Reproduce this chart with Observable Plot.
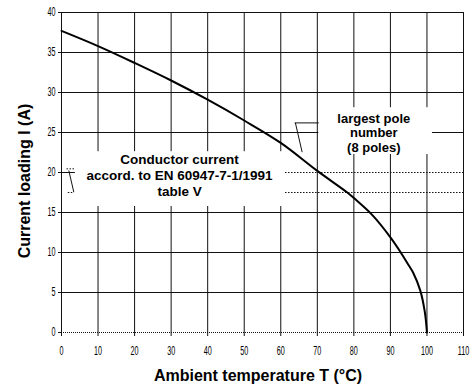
<!DOCTYPE html>
<html><head><meta charset="utf-8">
<script src="https://cdn.jsdelivr.net/npm/d3@7"></script>
<script src="https://cdn.jsdelivr.net/npm/@observablehq/plot@0.6"></script>
<style>
body{margin:0;background:#fff;}
#chart svg{display:block;}
</style></head><body><div id="chart"></div>
<script>
const temperature = [0,10,20,30,40,50,60,70,78.2,80,85,90,92.7,95,96.2,98.2,99.4,100];
const current = [37.7,35.8,33.7,31.5,29.1,26.5,23.7,20.2,17.5,16.8,14.7,11.9,10.1,8.4,7.5,5.2,2.6,0];
const xTicks = [0,10,20,30,40,50,60,70,80,90,100,110];
const yTicks = [0,5,10,15,20,25,30,35,40];
const solidGridY = [5,10,15,25,30,35];
const conductorLimits = [20, 17.5];
const xTitle = "Ambient temperature T (°C)";
const yTitle = "Current loading I (A)";
const conductorNote = "Conductor current\naccord. to EN 60947-7-1/1991\ntable V";
const poleNote = "largest pole\nnumber\n(8 poles)";

const curveData = temperature.map((t, i) => ({t, i: current[i]}));
const ink = "#111";
const font = "Liberation Sans, Arial, Helvetica, sans-serif";

const chart = Plot.plot({
  width: 475, height: 385,
  marginLeft: 61, marginRight: 12, marginTop: 12, marginBottom: 53,
  style: {fontFamily: font, fontSize: "12px", background: "#fff", color: "#000"},
  x: {domain: [0, 110]},
  y: {domain: [0, 40]},
  marks: [
    Plot.ruleX(xTicks.filter(d => d > 0 && d < 110), {stroke: ink, strokeWidth: 1}),
    Plot.ruleY(solidGridY, {stroke: ink, strokeWidth: 1}),
    Plot.ruleY([20], {x1: 0, x2: 61.3, stroke: ink, strokeWidth: 1}),
    Plot.ruleX([0, 110], {stroke: ink, strokeWidth: 1}),
    Plot.ruleY([40], {stroke: ink, strokeWidth: 1}),
    Plot.ruleY([0], {stroke: ink, strokeWidth: 1, strokeDasharray: "1,1"}),
    Plot.rect([0], {x1: 3.8, x2: 61.3, y1: 15.75, y2: 22.6, fill: "#fff"}),
    Plot.rect([0], {x1: 70.4, x2: 101.5, y1: 22.25, y2: 28.1, fill: "#fff"}),
    Plot.ruleY(conductorLimits, {x1: 61.3, x2: 110, stroke: ink, strokeWidth: 1, strokeDasharray: "1.5,1.5"}),
    Plot.link([0], {x1: 1.37, x2: 3.83, y1: 20.46, y2: 20.46, stroke: ink, strokeWidth: 1, strokeDasharray: "1.5,1.5"}),
    Plot.link([0], {x1: 1.72, x2: 3.37, y1: 17.5, y2: 17.5, stroke: ink, strokeWidth: 1, strokeDasharray: "1.5,1.5"}),
    Plot.link([0], {x1: 2.0, x2: 3.37, y1: 20.25, y2: 17.54, stroke: ink, strokeWidth: 1}),
    Plot.link([0], {x1: 63.8, x2: 70.4, y1: 26.2, y2: 26.2, stroke: ink, strokeWidth: 1}),
    Plot.link([0], {x1: 64.0, x2: 65.85, y1: 26.2, y2: 22.54, stroke: ink, strokeWidth: 1}),
    Plot.line(curveData, {x: "t", y: "i", curve: "catmull-rom", stroke: "#000", strokeWidth: 2}),
    Plot.text([conductorNote], {x: 32.3, y: 19.72, text: d => d, fontSize: 13.5, fontWeight: "bold", lineHeight: 1.185, textAnchor: "middle", lineAnchor: "middle", fill: "#000"}),
    Plot.text([poleNote], {x: 85.45, y: 25.0, text: d => d, fontSize: 13, fontWeight: "bold", lineHeight: 1.12, textAnchor: "middle", lineAnchor: "middle", fill: "#000"}),
    Plot.axisX(xTicks, {tickSize: 4, tickPadding: 10, fontSize: 12, label: null, stroke: ink, fill: "#000"}),
    Plot.axisY(yTicks, {tickSize: 3, tickPadding: 3, fontSize: 12, label: null, stroke: ink, fill: "#000"}),
    Plot.text([xTitle], {frameAnchor: "bottom", textAnchor: "middle", lineAnchor: "middle", dx: -4.5, dy: 43, text: d => d, fontSize: 16, fontWeight: "bold", fill: "#000"}),
    Plot.text([yTitle], {frameAnchor: "left", textAnchor: "middle", lineAnchor: "middle", dx: -37, dy: 8.5, rotate: -90, text: d => d, fontSize: 16, fontWeight: "bold", fill: "#000"})
  ]
});

chart.querySelectorAll('g[aria-label="x-axis tick label"] text, g[aria-label="y-axis tick label"] text').forEach(t => {
  const tr = t.getAttribute("transform");
  if (tr) {
    t.setAttribute("transform", tr + " scale(0.6,1)");
  } else {
    const x = +t.getAttribute("x") || 0, y = +t.getAttribute("y") || 0;
    t.removeAttribute("x"); t.removeAttribute("y");
    t.setAttribute("transform", `translate(${x},${y}) scale(0.6,1)`);
  }
});

document.getElementById("chart").appendChild(chart);
</script>
</body></html>
